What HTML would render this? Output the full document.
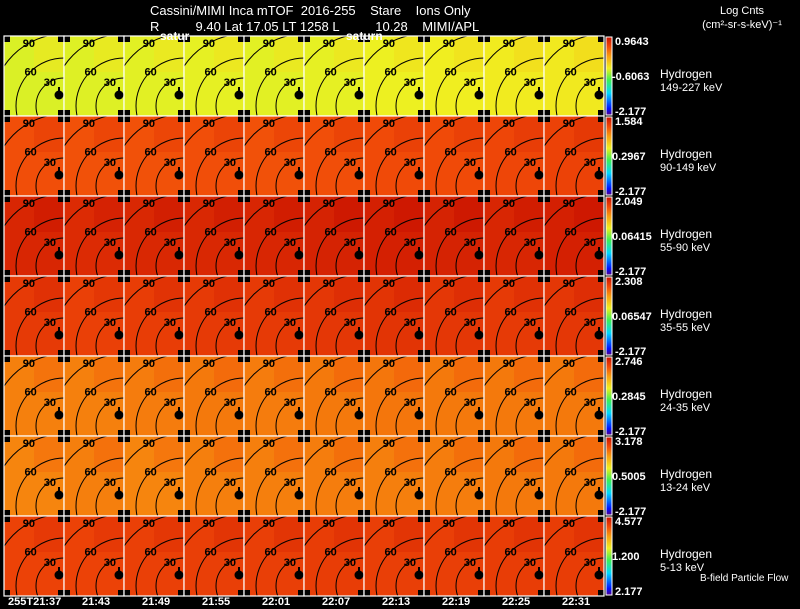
<!DOCTYPE html>
<html><head><meta charset="utf-8"><style>
html,body{margin:0;padding:0;background:#000;width:800px;height:609px;overflow:hidden}
svg{display:block}
text{font-family:"Liberation Sans",sans-serif;fill:#fff}
</style></head><body>
<svg id="chart" width="800" height="609" viewBox="0 0 800 609">
<defs>
<linearGradient id="cb" x1="0" y1="1" x2="0" y2="0">
<stop offset="0" stop-color="#50008c"/><stop offset="0.08" stop-color="#0010ff"/>
<stop offset="0.28" stop-color="#00d8ff"/><stop offset="0.45" stop-color="#40f050"/>
<stop offset="0.6" stop-color="#f0f020"/><stop offset="0.75" stop-color="#f8a010"/>
<stop offset="0.88" stop-color="#f04808"/><stop offset="1" stop-color="#c81000"/></linearGradient>
</defs>
<text x="150" y="15" font-size="13" xml:space="preserve">Cassini/MIMI Inca mTOF  2016-255    Stare    Ions Only</text>
<text x="150" y="31" font-size="13" xml:space="preserve">R          9.40 Lat 17.05 LT 1258 L          10.28    MIMI/APL</text>
<text x="742" y="14" font-size="11" text-anchor="middle">Log Cnts</text>
<text x="742" y="28" font-size="11" text-anchor="middle">(cm²-sr-s-keV)⁻¹</text>
<g id="grid"></g>
<text x="160" y="40" font-size="12" font-weight="bold">satur</text>
<text x="346" y="40" font-size="12" font-weight="bold">saturn</text>
<text x="700" y="581" font-size="10">B-field Particle Flow</text>
</svg>
<script>
const times=["255T21:37","21:43","21:49","21:55","22:01","22:07","22:13","22:19","22:25","22:31"];
const species=["Hydrogen","Hydrogen","Hydrogen","Hydrogen","Hydrogen","Hydrogen","Hydrogen"];
const energies=["149-227 keV","90-149 keV","55-90 keV","35-55 keV","24-35 keV","13-24 keV","5-13 keV"];
const cbMax=["0.9643","1.584","2.049","2.308","2.746","3.178","4.577"];
const cbMid=["-0.6063","0.2967","0.06415","0.06547","0.2845","0.5005","1.200"];
const cbMin=["-2.177","-2.177","-2.177","-2.177","-2.177","-2.177","2.177"];
const cbMaxNum=[0.9643,1.584,2.049,2.308,2.746,3.178,4.577];
// panel mean log counts (rows x columns)
const vals=[
[-0.35,-0.34,-0.33,-0.32,-0.33,-0.32,-0.3,-0.28,-0.26,-0.25],
[1.1,1.08,1.08,1.1,1.08,1.1,1.12,1.12,1.15,1.18],
[1.85,1.8,1.83,1.83,1.85,1.88,1.9,1.88,1.85,1.9],
[1.9,1.85,1.88,1.9,1.9,1.93,1.96,1.93,1.9,1.93],
[1.75,1.75,1.78,1.8,1.78,1.8,1.82,1.8,1.8,1.8],
[2.05,2.1,2.05,2.1,2.1,2.12,2.1,2.12,2.15,2.15],
[3.85,3.85,3.88,3.9,3.9,3.92,3.9,3.9,3.92,3.92]];
const contours=[30,60,90];
const X0=4,CW=60,Y0=36,RH=80,cbMinV=-2.177;
const stops=[[0,[80,0,140]],[0.08,[0,16,255]],[0.28,[0,216,255]],[0.45,[64,240,80]],[0.6,[240,240,32]],[0.75,[248,160,16]],[0.88,[240,72,8]],[1,[200,16,0]]];
function cmap(t){t=Math.max(0,Math.min(1,t));for(let i=1;i<stops.length;i++){if(t<=stops[i][0]){const a=stops[i-1],b=stops[i],f=(t-a[0])/(b[0]-a[0]);return 'rgb('+a[1].map((c,k)=>Math.round(c+(b[1][k]-c)*f)).join(',')+')';}}return 'rgb(200,16,0)';}
const NS='http://www.w3.org/2000/svg';
const g=document.getElementById('grid');
function el(tag,attrs,parent){const e=document.createElementNS(NS,tag);for(const k in attrs)e.setAttribute(k,attrs[k]);(parent||g).appendChild(e);return e;}
for(let r=0;r<vals.length;r++){
 for(let c=0;c<times.length;c++){
  const x=X0+c*CW,y=Y0+r*RH;
  const p=el('g',{});
  
  
  const t=(vals[r][c]-cbMinV)/(cbMaxNum[r]-cbMinV);
  el('rect',{x:x,y:y,width:CW,height:RH,fill:cmap(t)},p);
  el('rect',{x:x+CW*0.5,y:y,width:CW*0.5,height:RH*0.45,fill:cmap(t+0.04),opacity:0.5},p);
  const cid='cl'+r+'_'+c;
  const cp=el('clipPath',{id:cid},p);el('rect',{x:x,y:y,width:CW,height:RH},cp);
  const cx=x+60,cy=y+70;
  contours.forEach((d,i)=>{const rad=[28,48,72][i];
   el('circle',{cx:cx,cy:cy,r:rad,fill:'none',stroke:'#000','stroke-width':1,'clip-path':'url(#'+cid+')'},p);
   const ang=[-2.1,-2.34,-2.08][i];
   const tx=el('text',{x:cx+rad*Math.cos(ang),y:cy+rad*Math.sin(ang)+4,'font-size':11,'font-weight':'bold','text-anchor':'middle',style:'fill:#000'},p);
   tx.textContent=d;});
  el('circle',{cx:x+55,cy:y+59,r:4.5,fill:'#000'},p);
  el('rect',{x:x+54,y:y+51,width:2,height:5,fill:'#000'},p);
  [[0,0],[CW-6,0],[0,RH-6],[CW-6,RH-6]].forEach(o=>el('rect',{x:x+o[0],y:y+o[1],width:6,height:6,fill:'#000'},p));
  el('rect',{x:x,y:y,width:CW,height:RH,fill:'none',stroke:'#fff','stroke-width':1.2},p);
 }
 const y=Y0+r*RH;
 const cb=el('rect',{x:606,y:y+1,width:6,height:RH-2,fill:'url(#cb)',stroke:'#fff','stroke-width':1});
 
 
 const a=el('text',{x:615,y:y+9,'font-size':11,'font-weight':'bold'});a.textContent=cbMax[r];
 
 const m=el('text',{x:612,y:y+44,'font-size':11,'font-weight':'bold'});m.textContent=cbMid[r];
 
 const b=el('text',{x:615,y:y+RH-1,'font-size':11,'font-weight':'bold'});b.textContent=cbMin[r];
 
 const s=el('text',{x:660,y:y+42,'font-size':12});s.textContent=species[r];
 
 const e=el('text',{x:660,y:y+55,'font-size':11});e.textContent=energies[r];
 
}
times.forEach((tm,c)=>{const tx=el('text',{x:X0+c*CW+(c==0?4:18),y:605,'font-size':11,'font-weight':'bold'});tx.textContent=tm;
 
 });
</script>
</body></html>
